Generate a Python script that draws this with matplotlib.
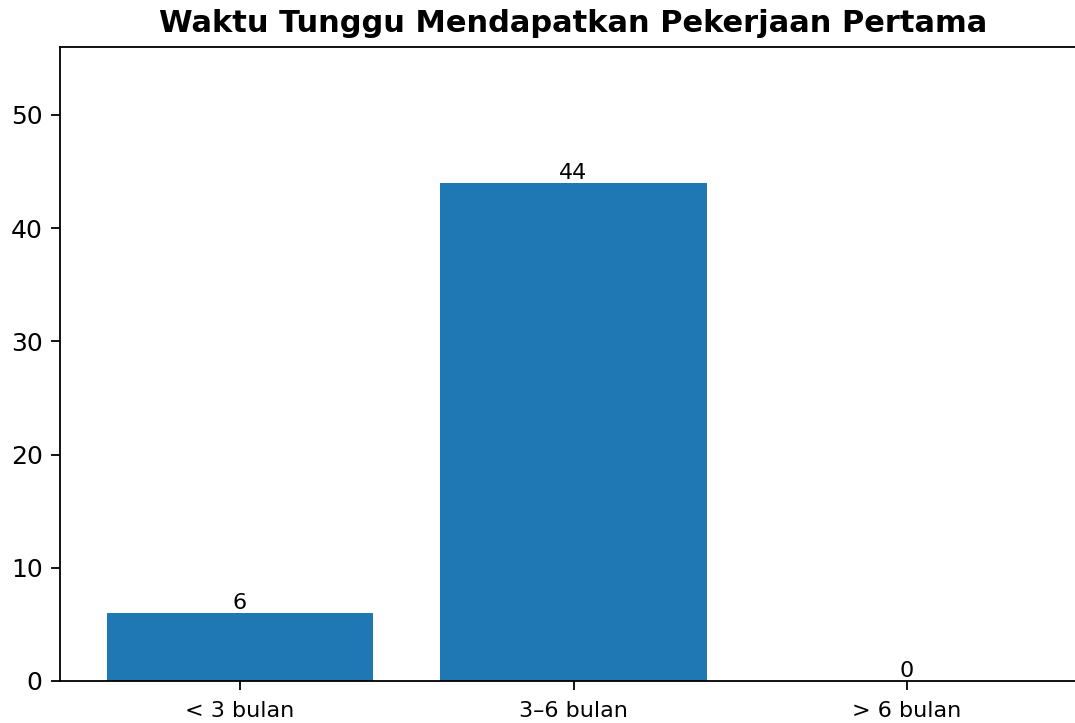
import matplotlib
matplotlib.use("Agg")
import matplotlib.pyplot as plt

categories = ["< 3 bulan", "3–6 bulan", "> 6 bulan"]
values = [6, 44, 0]
title = "Waktu Tunggu Mendapatkan Pekerjaan Pertama"

fig = plt.figure(figsize=(10.75, 7.23), dpi=100)
ax = fig.add_axes([60/1075, 42/723, 1027/1075, (681-47)/723])
bars = ax.bar(categories, values, color="#1f77b4", width=0.8)
ax.bar_label(bars, labels=[str(v) for v in values], fontsize=16, padding=0)
ax.set_ylim(0, 56)
ax.set_xlim(-0.54, 2.54)
ax.set_yticks([0, 10, 20, 30, 40, 50])
ax.tick_params(axis="y", labelsize=18, length=6.5, width=1.3, pad=6)
ax.tick_params(axis="x", labelsize=16, length=6.5, width=1.3, pad=8)
for s in ax.spines.values():
    s.set_linewidth(1.3)
ax.set_title(title, fontsize=22, fontweight="bold", pad=11)
fig.savefig("out.png", dpi=100)
